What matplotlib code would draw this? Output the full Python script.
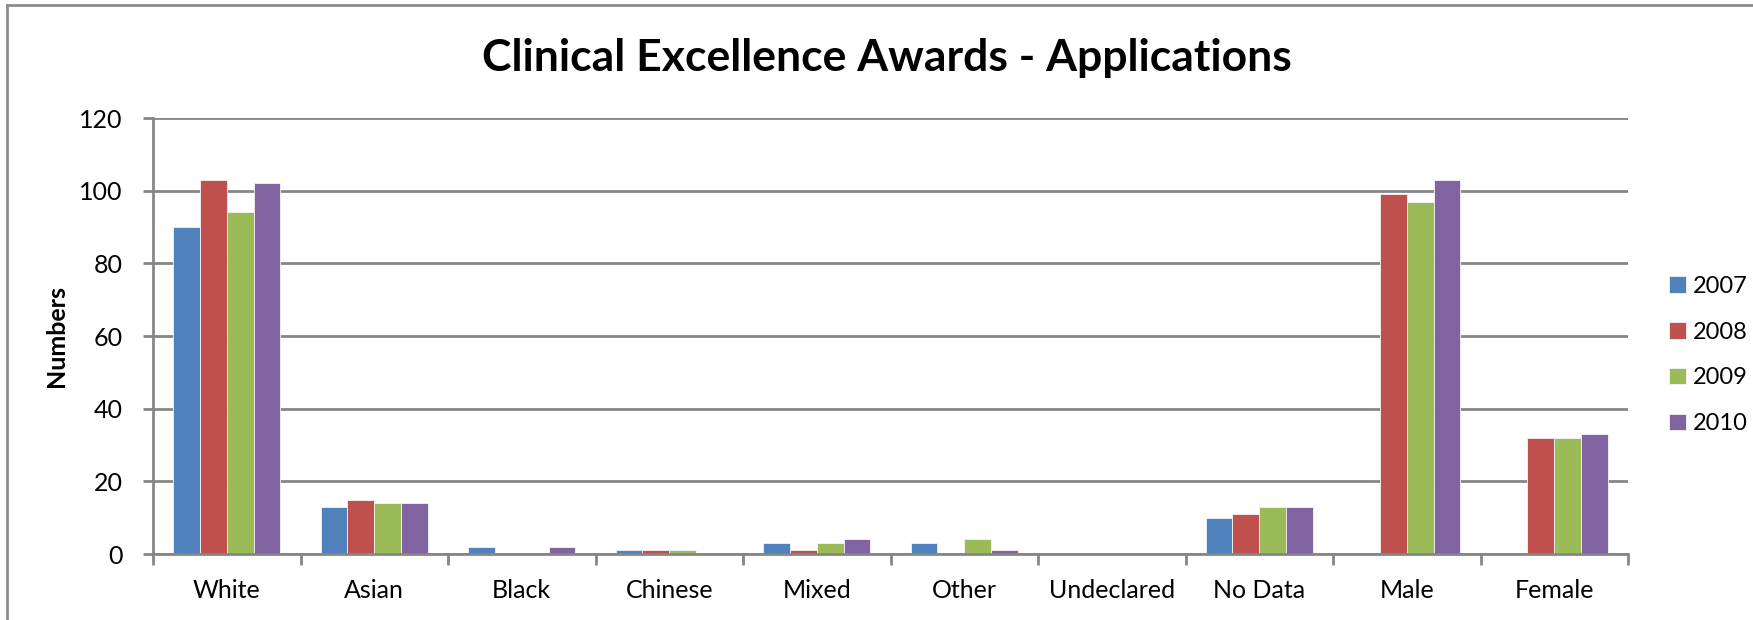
import matplotlib
matplotlib.use('Agg')
import matplotlib.pyplot as plt
from matplotlib.lines import Line2D
import numpy as np

# ─── Datos ───────────────────────────────────────────────────────────────────
categorias = ['White', 'Asian', 'Black', 'Chinese', 'Mixed', 'Other',
              'Undeclared', 'No Data', 'Male', 'Female']
anios = ['2007', '2008', '2009', '2010']
v2007 = [90, 13, 2, 1, 3, 3, 0, 10, 0, 0]
v2008 = [103, 15, 0, 1, 1, 0, 0, 11, 99, 32]
v2009 = [94, 14, 0, 1, 3, 4, 0, 13, 97, 32]
v2010 = [102, 14, 2, 0, 4, 1, 0, 13, 103, 33]
y_ticks = [0, 20, 40, 60, 80, 100, 120]

COLORES = ['#4F81BD', '#C0504D', '#9BBB59', '#8064A2']
GRIS = '#868686'

plt.rcParams['font.family'] = ['Lato', 'DejaVu Sans']

fig = plt.figure(figsize=(17.53, 6.20), dpi=100)
ax = fig.add_axes([153 / 1753, 1 - 554 / 620, (1628 - 153) / 1753, (554 - 118) / 620])

series = [v2007, v2008, v2009, v2010]
n = len(series)
x = np.arange(len(categorias))
ancho = 1 / (n + 1.5)   # gap width 150% estilo Excel
for i, (vals, col, lab) in enumerate(zip(series, COLORES, anios)):
    ax.bar(x + (i - (n - 1) / 2) * ancho, vals, width=ancho, color=col,
           edgecolor='#f4f4f4', linewidth=0.6, label=lab, zorder=3)

ax.set_xlim(-0.5, len(categorias) - 0.5)
ax.set_ylim(0, 120)
ax.set_yticks(y_ticks)
ax.set_yticklabels([str(t) for t in y_ticks])
ax.grid(True, axis='y', color=GRIS, linewidth=2, zorder=0)

# Marcas del eje X entre categorías, etiquetas centradas
ax.set_xticks(np.arange(len(categorias) + 1) - 0.5)
ax.set_xticklabels([])
ax.set_xticks(x, minor=True)
ax.set_xticklabels(categorias, minor=True)
ax.tick_params(axis='x', which='major', length=8, width=2, color=GRIS, direction='out')
ax.tick_params(axis='x', which='minor', length=0, pad=18, labelsize=18)
ax.tick_params(axis='y', length=7, width=2, color=GRIS, pad=15, labelsize=18)

for s in ['top', 'right']:
    ax.spines[s].set_visible(False)
for s in ['left', 'bottom']:
    ax.spines[s].set_color(GRIS)
    ax.spines[s].set_linewidth(2)
    ax.spines[s].set_zorder(4)

ax.set_ylabel('Numbers', fontsize=18, fontweight='bold', labelpad=8)
fig.text(887 / 1753, 1 - 58 / 620, 'Clinical Excellence Awards - Applications',
         ha='center', va='center', fontsize=32, fontweight='bold')

ax.legend(loc='center left', bbox_to_anchor=(1669 / 1753, 1 - 355 / 620),
          bbox_transform=fig.transFigure, frameon=False, fontsize=17,
          handlelength=0.7, handleheight=0.7, handletextpad=0.3,
          labelspacing=1.05, borderaxespad=0, borderpad=0)

# Marco del gráfico (recortado a la derecha y abajo)
fig.add_artist(Line2D([7 / 1753, 7 / 1753], [0, 1 - 5 / 620], color='#8c8c8c',
                      linewidth=2, transform=fig.transFigure))
fig.add_artist(Line2D([7 / 1753, 1], [1 - 5 / 620, 1 - 5 / 620], color='#8c8c8c',
                      linewidth=2, transform=fig.transFigure))

fig.savefig('out.png', dpi=100, facecolor='white')
